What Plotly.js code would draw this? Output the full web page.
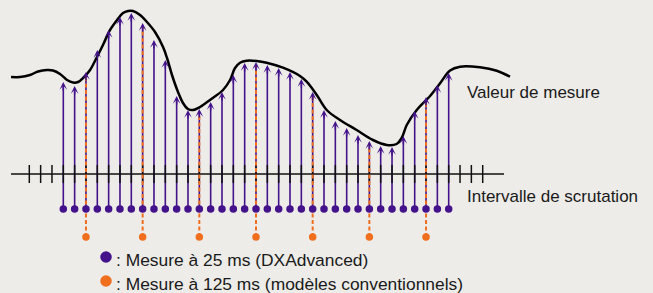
<!DOCTYPE html>
<html><head><meta charset="utf-8">
<script src="https://cdn.plot.ly/plotly-3.0.1.min.js"></script>
<style>html,body{margin:0;padding:0;background:#edece8;}#chart{width:653px;height:293px;}</style>
</head><body><div id="chart"></div>
<script>
// sample indices (25 ms scan interval)
const sampleIdx = [0,1,2,3,4,5,6,7,8,9,10,11,12,13,14,15,16,17,18,19,20,21,22,23,24,25,26,27,28,29,30,31,32,33,34];
// measured value at each sample
const measureValues = [92,88,102,124,144,157,161,151,134,114,78,64,65,72,82,99,111,112,109,106,102,95,82,64,53,46,39,33,28,27,38,63,77,89,101];
// samples taken by conventional models (125 ms)
const conventionalIdx = [2,7,12,17,22,27,32];
// scan interval tick marks
const tickIdx = [-3,-2,-1,0,1,2,3,4,5,6,7,8,9,10,11,12,13,14,15,16,17,18,19,20,21,22,23,24,25,26,27,28,29,30,31,32,33,34,35,36,37];
// continuous measurement curve
const curveT = [-4.61,-3.82,-2.94,-2.23,-1.44,-0.91,-0.29,0.33,0.86,1.30,1.83,2.36,2.97,3.50,4.12,4.74,5.27,5.71,6.15,6.77,7.38,8.09,8.80,9.15,9.59,10.12,10.56,11.0,11.44,12.06,12.94,14.09,14.71,15.15,15.59,16.18,17.06,17.94,19.38,20.88,21.47,22.36,23.24,24.41,25.88,27.32,28.53,29.41,29.85,30.30,31.18,32.36,33.24,34.12,35.0,36.76,38.24,39.41];
const curveV = [97,97,99,102.5,104,103.5,100,94,91.5,92,97,104,117,129,144,154,161,163,163,159,152,142,127,116,99,82,71,65,64,67,74,84,94,106,111.3,113.3,113,111.3,106.3,98,92.3,79,64,54,44,34,29,30,36,49,64,78,90.7,103.5,107.3,106.7,103.3,97.3];
const labels = ['Valeur de mesure', 'Intervalle de scrutation'];
const legendTexts = [': Mesure à 25 ms (DXAdvanced)', ': Mesure à 125 ms (modèles conventionnels)'];

const PURPLE = '#44128a', ORANGE = '#f06f1e', BG = '#edece8';
const BASE25 = -35, BASE125 = -63;
const W = 653, H = 293;
const X0 = 63.3, DX = 11.335, AXIS_PY = 174;
const toT = px => (px - X0) / DX;
const toV = py => AXIS_PY - py;

function seg(xs, y0s, y1s) {
  const x = [], y = [];
  xs.forEach((xx, k) => { x.push(xx, xx, null); y.push(y0s[k], y1s[k], null); });
  return {x, y};
}

const purpleSeg = seg(sampleIdx, sampleIdx.map(() => BASE25), measureValues.map(v => v - 4));
const tickSeg = seg(tickIdx, tickIdx.map(() => 9), tickIdx.map(() => -9));
const convVals = conventionalIdx.map(i => measureValues[i]);
const orangeSeg = seg(conventionalIdx, conventionalIdx.map(() => BASE125), convVals.map(v => v - 4));

const traces = [
  {x: purpleSeg.x, y: purpleSeg.y, mode: 'lines', line: {color: PURPLE, width: 1.6}, hoverinfo: 'skip'},
  {x: tickSeg.x, y: tickSeg.y, mode: 'lines', line: {color: '#111', width: 1.5}, hoverinfo: 'skip'},
  {x: [toT(11), toT(504)], y: [0, 0], mode: 'lines', line: {color: '#111', width: 1.5}, hoverinfo: 'skip'},
  {x: orangeSeg.x, y: orangeSeg.y, mode: 'lines', line: {color: ORANGE, width: 2, dash: '4px,2.5px'}, hoverinfo: 'skip'},
  {x: sampleIdx, y: sampleIdx.map(() => BASE25), mode: 'markers', marker: {color: PURPLE, size: 7.5}, hoverinfo: 'skip'},
  {x: conventionalIdx, y: conventionalIdx.map(() => BASE125), mode: 'markers', marker: {color: ORANGE, size: 7.5}, hoverinfo: 'skip'},
  {x: curveT, y: curveV, mode: 'lines', line: {color: '#000', width: 2.5, shape: 'spline', smoothing: 1}, hoverinfo: 'skip'},
  {x: [toT(106), toT(106)], y: [toV(257), toV(281)], mode: 'markers', marker: {color: [PURPLE, ORANGE], size: 11.5}, hoverinfo: 'skip'}
];

const annotations = [];
sampleIdx.forEach((i, k) => {
  annotations.push({x: i, y: measureValues[k], ax: i, ay: measureValues[k] - 10, xref: 'x', yref: 'y', axref: 'x', ayref: 'y',
    text: '', showarrow: true, arrowhead: 3, arrowsize: 0.85, arrowwidth: 1.5, arrowcolor: PURPLE, standoff: 0});
});
const textFont = {family: '"Liberation Sans", Arial, Helvetica, sans-serif', size: 17, color: '#1a1a1a'};
const legendFont = {family: '"Liberation Sans", Arial, Helvetica, sans-serif', size: 17.4, color: '#1a1a1a'};
annotations.push({xref: 'paper', yref: 'paper', x: 465 / W, y: 1 - 92 / H, xanchor: 'left', yanchor: 'middle', text: labels[0], showarrow: false, font: textFont});
annotations.push({xref: 'paper', yref: 'paper', x: 465 / W, y: 1 - 196 / H, xanchor: 'left', yanchor: 'middle', text: labels[1], showarrow: false, font: textFont});
annotations.push({xref: 'paper', yref: 'paper', x: 113.5 / W, y: 1 - 260 / H, xanchor: 'left', yanchor: 'middle', text: legendTexts[0], showarrow: false, font: legendFont});
annotations.push({xref: 'paper', yref: 'paper', x: 113.5 / W, y: 1 - 283.5 / H, xanchor: 'left', yanchor: 'middle', text: legendTexts[1], showarrow: false, font: legendFont});

const layout = {
  width: W, height: H, margin: {l: 0, r: 0, t: 0, b: 0, pad: 0},
  paper_bgcolor: BG, plot_bgcolor: BG, showlegend: false,
  xaxis: {range: [toT(0), toT(W)], visible: false, fixedrange: true},
  yaxis: {range: [toV(H), toV(0)], visible: false, fixedrange: true},
  annotations: annotations
};
Plotly.newPlot('chart', traces, layout, {staticPlot: true, displayModeBar: false});
</script></body></html>
